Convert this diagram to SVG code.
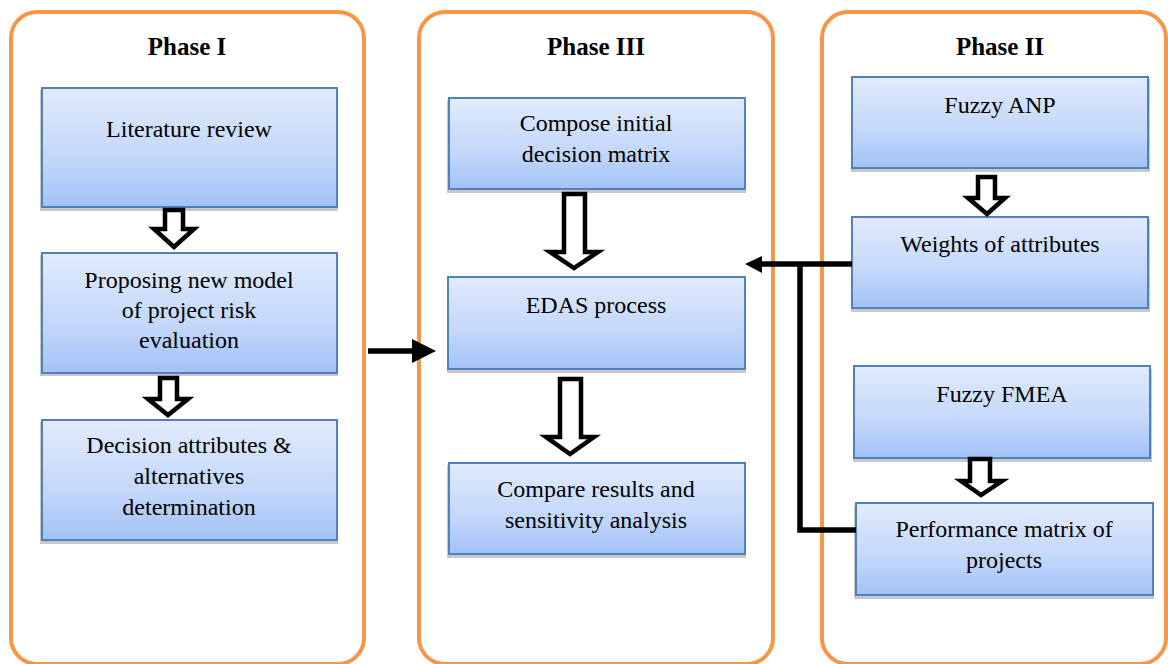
<svg xmlns="http://www.w3.org/2000/svg" width="1168" height="664" viewBox="0 0 1168 664">
<style>
.phase{fill:#fff;stroke:#F79646;stroke-width:4}
.box{fill:url(#g);stroke:#4F81BD;stroke-width:2}
.sh{fill:#c8c8c8}
.ha{fill:#fff;stroke:#000;stroke-width:4.5;stroke-linejoin:miter}
.ln{fill:none;stroke:#000;stroke-width:5.5}
</style>
<defs>
<linearGradient id="g" x1="0" y1="0" x2="0" y2="1">
<stop offset="0" stop-color="#E1EBFC"/>
<stop offset="0.6" stop-color="#C3D7FA"/>
<stop offset="1" stop-color="#A2C2F6"/>
</linearGradient>
</defs>
<rect width="1168" height="664" fill="#fff"/>
<g id="phase1">
<rect class="phase" x="11" y="12" width="353" height="652" rx="26"/>
<text x="187" y="55" font-family="'Liberation Serif', Tinos, serif" font-weight="bold" font-size="25" text-anchor="middle">Phase I</text>
</g>
<g id="phase3">
<rect class="phase" x="419" y="12" width="354" height="652" rx="26"/>
<text x="596" y="55" font-family="'Liberation Serif', Tinos, serif" font-weight="bold" font-size="25" text-anchor="middle">Phase III</text>
</g>
<g id="phase2">
<rect class="phase" x="822" y="12" width="344" height="652" rx="26"/>
<text x="1000" y="55" font-family="'Liberation Serif', Tinos, serif" font-weight="bold" font-size="25" text-anchor="middle">Phase II</text>
</g>
<g font-family="'Liberation Serif', Tinos, serif" font-size="24" text-anchor="middle" fill="#000">
<g id="literature">
<rect class="sh" x="40" y="90" width="298" height="121"/>
<rect class="box" x="42" y="88" width="295" height="119"/>
<text x="189" y="137">Literature review</text>
</g>
<g id="proposing">
<rect class="sh" x="40" y="255" width="298" height="121"/>
<rect class="box" x="42" y="253" width="295" height="120"/>
<text x="189" y="288">Proposing new model</text>
<text x="189" y="318">of project risk</text>
<text x="189" y="348">evaluation</text>
</g>
<g id="decision">
<rect class="sh" x="40" y="422" width="298" height="122"/>
<rect class="box" x="42" y="420" width="295" height="120"/>
<text x="189" y="453">Decision attributes &amp;</text>
<text x="189" y="484">alternatives</text>
<text x="189" y="515">determination</text>
</g>
<g id="compose">
<rect class="sh" x="447" y="100" width="299" height="93"/>
<rect class="box" x="449" y="98" width="296" height="91"/>
<text x="596" y="131">Compose initial</text>
<text x="596" y="162">decision matrix</text>
</g>
<g id="edas">
<rect class="sh" x="447" y="279" width="299" height="94"/>
<rect class="box" x="448" y="277" width="297" height="92"/>
<text x="596" y="313">EDAS process</text>
</g>
<g id="compare">
<rect class="sh" x="447" y="465" width="299" height="93"/>
<rect class="box" x="449" y="463" width="296" height="91"/>
<text x="596" y="497">Compare results and</text>
<text x="596" y="528">sensitivity analysis</text>
</g>
<g id="fuzzyanp">
<rect class="sh" x="851" y="79" width="299" height="93"/>
<rect class="box" x="852" y="77" width="296" height="91"/>
<text x="1000" y="113">Fuzzy ANP</text>
</g>
<g id="weights">
<rect class="sh" x="851" y="219" width="299" height="93"/>
<rect class="box" x="852" y="217" width="296" height="91"/>
<text x="1000" y="252">Weights of attributes</text>
</g>
<g id="fuzzyfmea">
<rect class="sh" x="853" y="369" width="299" height="93"/>
<rect class="box" x="854" y="366" width="296" height="92"/>
<text x="1002" y="402">Fuzzy FMEA</text>
</g>
<g id="performance">
<rect class="sh" x="854" y="505" width="300" height="94"/>
<rect class="box" x="856" y="503" width="297" height="92"/>
<text x="1004" y="537">Performance matrix of</text>
<text x="1004" y="568">projects</text>
</g>
</g>
<g id="connectors">
<polygon class="ha" points="165,210 183,210 183,229 194,229 174,247 154,229 165,229"/>
<polygon class="ha" points="160,378 177,378 177,399 188,399 168,415 148,399 160,399"/>
<polygon class="ha" points="564,194 585,194 585,252 598,252 574,268 550,252 564,252"/>
<polygon class="ha" points="560,379 581,379 581,437 594,437 570,454 546,437 560,437"/>
<polygon class="ha" points="978,177 995,177 995,198 1005,198 987,214 968,198 978,198"/>
<polygon class="ha" points="970,459 990,459 990,481 1002,481 981,495 961,481 970,481"/>
<line class="ln" x1="368" y1="351" x2="414" y2="351" stroke-width="7"/>
<polygon points="412,339 436,351 412,363" fill="#000"/>
<polyline class="ln" points="852,264 761,264"/>
<polygon points="762,256 745,264 762,273" fill="#000"/>
<polyline class="ln" points="856,530 800,530 800,264"/>
</g>
</svg>
